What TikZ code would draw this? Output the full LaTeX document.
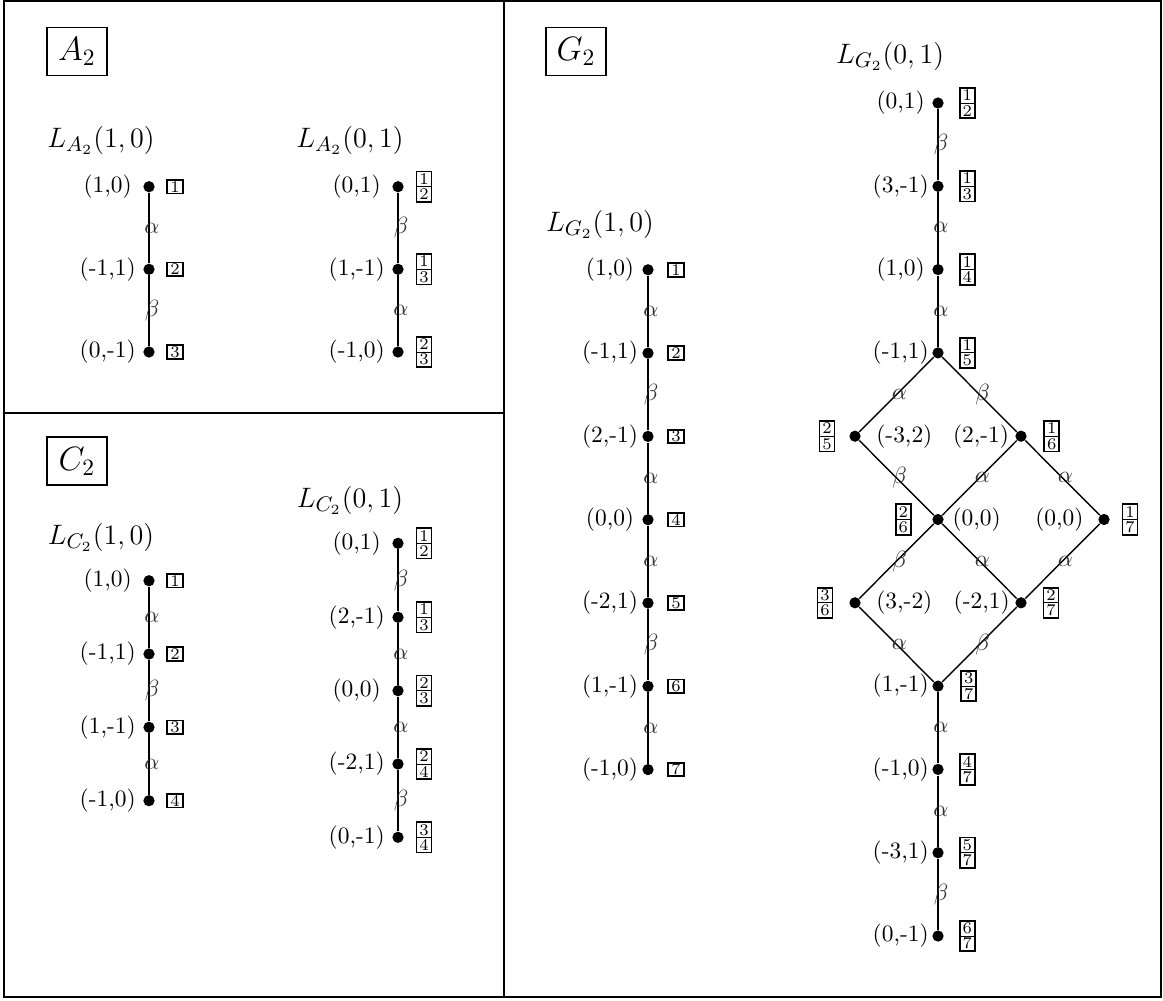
\documentclass[tikz,border=0pt]{standalone}
\usepackage{amsmath}
\usepackage{tikz}
\usetikzlibrary{positioning}

\begin{document}
\begin{tikzpicture}[
    x=0.015cm, y=-0.015cm,
    frame/.style={line width=1.2pt},
    typebox/.style={draw, line width=0.8pt, font=\Large, minimum width=0.9cm, minimum height=0.72cm, inner sep=2pt},
    title/.style={font=\fontsize{12.8}{15}\selectfont},
    dot/.style={circle, fill=black, inner sep=0pt, minimum size=4.8pt},
    cell/.style={draw, line width=0.8pt, minimum width=6.6pt, minimum height=5.8pt, inner sep=0pt, font=\scriptsize},
    col/.style={draw, line width=0.8pt, minimum width=6.4pt, minimum height=13pt, inner sep=0pt, align=center, font=\fontsize{7}{6.5}\selectfont,
        path picture={\draw[line width=0.4pt] (path picture bounding box.west) -- (path picture bounding box.east);}},
    wt/.style 2 args={label={[xshift=#1]center:{#2}}},
    one/.style 2 args={label={[cell, xshift=#1]center:{#2}}},
    two/.style n args={3}{label={[col, xshift=#1]center:{#2\\#3}}},
    thin1/.style={line width=0.9pt},
    thick1/.style={line width=1.2pt},
    diag/.style={line width=0.6pt},
    elab/.style={text=black!80, inner sep=0pt, xshift=0.045cm}
]
\useasboundingbox (0,0) rectangle (1163,1000);

% Frame
\draw[frame] (4,1) rectangle (1161,997);
\draw[frame] (504,1) -- (504,997);
\draw[frame] (4,413) -- (504,413);

% A_2
\node[typebox] (tA) at (77,51.5) {$A_2$};
\node[title] (LA1) at (101,140) {$L_{A_2}(1,0)$};
\node[title] (LA2) at (350,140) {$L_{A_2}(0,1)$};

\node[dot, wt={-0.62cm}{(1,0)}, one={0.39cm}{1}] (a1) at (149,186.7) {};
\node[dot, wt={-0.62cm}{(-1,1)}, one={0.39cm}{2}] (a2) at (149,269.3) {};
\node[dot, wt={-0.62cm}{(0,-1)}, one={0.39cm}{3}] (a3) at (149,352) {};

\node[dot, wt={-0.62cm}{(0,1)}, two={0.39cm}{1}{2}] (b1) at (398,186.7) {};
\node[dot, wt={-0.62cm}{(1,-1)}, two={0.39cm}{1}{3}] (b2) at (398,269.3) {};
\node[dot, wt={-0.62cm}{(-1,0)}, two={0.39cm}{2}{3}] (b3) at (398,352) {};

\draw[thin1] (a1) -- node[elab] {$\alpha$} (a2);
\draw[thin1] (a2) -- node[elab] {$\beta$} (a3);
\draw[thick1] (b1) -- node[elab] {$\beta$} (b2);
\draw[thick1] (b2) -- node[elab] {$\alpha$} (b3);

% C_2
\node[typebox] (tC) at (77,461) {$C_2$};
\node[title] (LC1) at (101,537) {$L_{C_2}(1,0)$};
\node[title] (LC2) at (350,500) {$L_{C_2}(0,1)$};

\node[dot, wt={-0.62cm}{(1,0)}, one={0.39cm}{1}] (c1) at (149,580.7) {};
\node[dot, wt={-0.62cm}{(-1,1)}, one={0.39cm}{2}] (c2) at (149,654) {};
\node[dot, wt={-0.62cm}{(1,-1)}, one={0.39cm}{3}] (c3) at (149,727.3) {};
\node[dot, wt={-0.62cm}{(-1,0)}, one={0.39cm}{4}] (c4) at (149,800.7) {};

\node[dot, wt={-0.62cm}{(0,1)}, two={0.39cm}{1}{2}] (d1) at (398,543.3) {};
\node[dot, wt={-0.62cm}{(2,-1)}, two={0.39cm}{1}{3}] (d2) at (398,617.3) {};
\node[dot, wt={-0.62cm}{(0,0)}, two={0.39cm}{2}{3}] (d3) at (398,690.7) {};
\node[dot, wt={-0.62cm}{(-2,1)}, two={0.39cm}{2}{4}] (d4) at (398,764) {};
\node[dot, wt={-0.62cm}{(0,-1)}, two={0.39cm}{3}{4}] (d5) at (398,837.3) {};

\draw[thin1] (c1) -- node[elab] {$\alpha$} (c2);
\draw[thin1] (c2) -- node[elab] {$\beta$} (c3);
\draw[thin1] (c3) -- node[elab] {$\alpha$} (c4);
\draw[thick1] (d1) -- node[elab] {$\beta$} (d2);
\draw[thick1] (d2) -- node[elab] {$\alpha$} (d3);
\draw[thick1] (d3) -- node[elab] {$\alpha$} (d4);
\draw[thick1] (d4) -- node[elab] {$\beta$} (d5);

% G_2
\node[typebox] (tG) at (576,51.5) {$G_2$};
\node[title] (LG1) at (600,224) {$L_{G_2}(1,0)$};
\node[title] (LG2) at (890,56) {$L_{G_2}(0,1)$};

\node[dot, wt={-0.57cm}{(1,0)}, one={0.42cm}{1}] (g1) at (648,269.8) {};
\node[dot, wt={-0.57cm}{(-1,1)}, one={0.42cm}{2}] (g2) at (648,353.1) {};
\node[dot, wt={-0.57cm}{(2,-1)}, one={0.42cm}{3}] (g3) at (648,436.4) {};
\node[dot, wt={-0.57cm}{(0,0)}, one={0.42cm}{4}] (g4) at (648,519.7) {};
\node[dot, wt={-0.57cm}{(-2,1)}, one={0.42cm}{5}] (g5) at (648,603) {};
\node[dot, wt={-0.57cm}{(1,-1)}, one={0.42cm}{6}] (g6) at (648,686.3) {};
\node[dot, wt={-0.57cm}{(-1,0)}, one={0.42cm}{7}] (g7) at (648,769.6) {};

\draw[thin1] (g1) -- node[elab] {$\alpha$} (g2);
\draw[thin1] (g2) -- node[elab] {$\beta$} (g3);
\draw[thin1] (g3) -- node[elab] {$\alpha$} (g4);
\draw[thin1] (g4) -- node[elab] {$\alpha$} (g5);
\draw[thin1] (g5) -- node[elab] {$\beta$} (g6);
\draw[thin1] (g6) -- node[elab] {$\alpha$} (g7);

\node[dot, wt={-0.56cm}{(0,1)}, two={0.44cm}{1}{2}] (h1) at (938,103) {};
\node[dot, wt={-0.56cm}{(3,-1)}, two={0.44cm}{1}{3}] (h2) at (938,186.3) {};
\node[dot, wt={-0.56cm}{(1,0)}, two={0.44cm}{1}{4}] (h3) at (938,269.6) {};
\node[dot, wt={-0.56cm}{(-1,1)}, two={0.44cm}{1}{5}] (h4) at (938,352.9) {};
\node[dot, wt={0.74cm}{(-3,2)}, two={-0.42cm}{2}{5}] (h5) at (855,436.2) {};
\node[dot, wt={-0.6cm}{(2,-1)}, two={0.46cm}{1}{6}] (h6) at (1021,436.2) {};
\node[dot, wt={0.58cm}{(0,0)}, two={-0.52cm}{2}{6}] (h7) at (938,519.5) {};
\node[dot, wt={-0.67cm}{(0,0)}, two={0.39cm}{1}{7}] (h8) at (1104,519.5) {};
\node[dot, wt={0.74cm}{(3,-2)}, two={-0.45cm}{3}{6}] (h9) at (855,602.8) {};
\node[dot, wt={-0.59cm}{(-2,1)}, two={0.45cm}{2}{7}] (h10) at (1021,602.8) {};
\node[dot, wt={-0.56cm}{(1,-1)}, two={0.46cm}{3}{7}] (h11) at (938,686.1) {};
\node[dot, wt={-0.56cm}{(-1,0)}, two={0.44cm}{4}{7}] (h12) at (938,769.4) {};
\node[dot, wt={-0.56cm}{(-3,1)}, two={0.44cm}{5}{7}] (h13) at (938,852.7) {};
\node[dot, wt={-0.56cm}{(0,-1)}, two={0.44cm}{6}{7}] (h14) at (938,936) {};

\draw[thick1] (h1) -- node[elab] {$\beta$} (h2);
\draw[thick1] (h2) -- node[elab] {$\alpha$} (h3);
\draw[thick1] (h3) -- node[elab] {$\alpha$} (h4);
\draw[diag] (h4) -- node[elab] {$\alpha$} (h5);
\draw[diag] (h4) -- node[elab] {$\beta$} (h6);
\draw[diag] (h5) -- node[elab] {$\beta$} (h7);
\draw[diag] (h6) -- node[elab] {$\alpha$} (h7);
\draw[diag] (h6) -- node[elab] {$\alpha$} (h8);
\draw[diag] (h7) -- node[elab] {$\beta$} (h9);
\draw[diag] (h7) -- node[elab] {$\alpha$} (h10);
\draw[diag] (h8) -- node[elab] {$\alpha$} (h10);
\draw[diag] (h9) -- node[elab] {$\alpha$} (h11);
\draw[diag] (h10) -- node[elab] {$\beta$} (h11);
\draw[thick1] (h11) -- node[elab] {$\alpha$} (h12);
\draw[thick1] (h12) -- node[elab] {$\alpha$} (h13);
\draw[thick1] (h13) -- node[elab] {$\beta$} (h14);

\end{tikzpicture}
\end{document}
